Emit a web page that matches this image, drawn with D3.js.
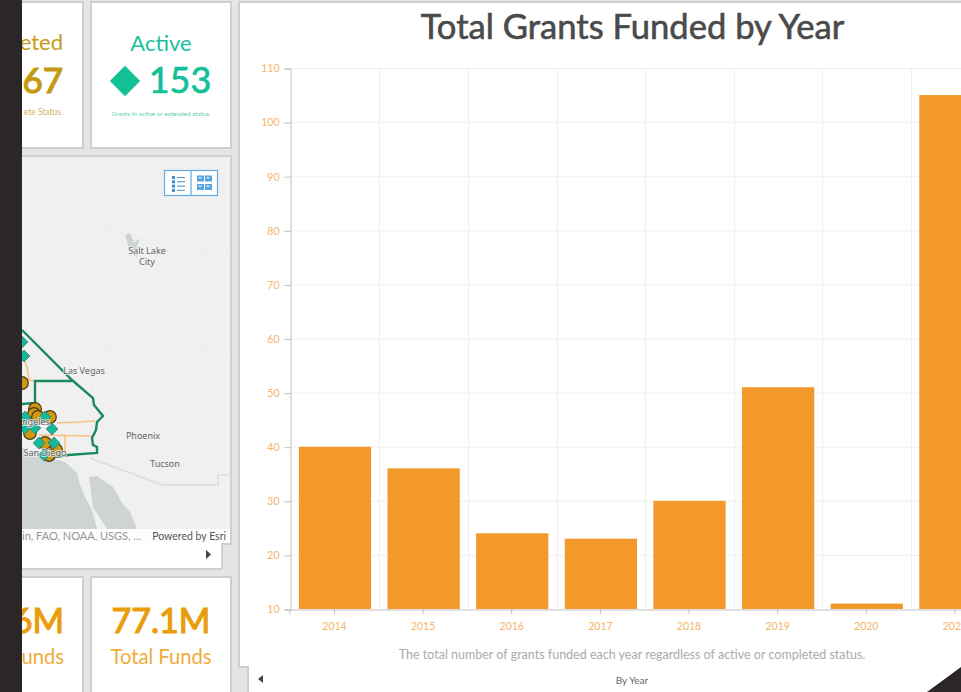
<!DOCTYPE html>
<html>
<head>
<meta charset="utf-8">
<script src="https://cdn.jsdelivr.net/npm/d3@7"></script>
<style>
  html, body { margin: 0; padding: 0; background: #e5e5e5; overflow: hidden; }
  svg { display: block; font-family: Lato, sans-serif; }
</style>
</head>
<body>
<svg id="chart" width="961" height="692"></svg>
<script>
// Chart values
const years = ["2014", "2015", "2016", "2017", "2018", "2019", "2020", "2021"];
const grants = [40, 36, 24, 23, 30, 51, 11, 105];
const yTicks = [10, 20, 30, 40, 50, 60, 70, 80, 90, 100, 110];

// Map scenery, in page pixels
const stateLines = [
  [[22, 225], [162, 225]], [[47, 157], [47, 225]], [[105, 225], [105, 352]],
  [[162, 157], [162, 251]], [[162, 251], [231, 251]], [[202, 251], [202, 485]],
  [[105, 352], [231, 352]], [[92, 380], [92, 398]]
];
const mexicoLine = [[90, 458], [163, 485], [218, 485], [218, 475], [231, 475]];
const ocean = [[22, 448], [50, 458], [65, 462], [72, 468], [77, 473], [80, 485], [85, 497], [92, 510], [97, 529], [22, 529]];
const gulf = [[89, 477], [97, 476], [113, 487], [122, 503], [130, 512], [137, 529], [107, 529], [93, 507]];
const saltLake = [[125, 235], [130, 233], [134, 243], [140, 238], [137, 246], [137, 258], [130, 252]];
const regionOuter = [[22, 330], [72, 380], [93, 398], [94, 405], [103, 416], [97, 422], [96, 430],
  [92, 438], [93, 445], [97, 447], [97, 453], [68, 455], [50, 458]];
const regionInner = [[72, 381], [35, 381], [35, 403], [22, 404]];
const countyLines = [
  [[24, 360], [27, 367], [29, 380], [35, 381]],
  [[57, 423], [80, 422], [95, 421]],
  [[39, 435], [92, 436]],
  [[65, 436], [65, 455]]
];
const completedSites = [[22, 383], [35, 409], [34, 414], [38, 417], [50, 417], [30, 433], [45, 443], [56, 450], [49, 455]];
const activeSites = [[24, 356], [22, 342], [25, 417], [45, 417], [35, 428], [25, 428], [52, 429], [39, 443], [54, 443], [44, 455]];
const cityLabels = [
  { name: "Salt Lake", x: 147, y: 254 }, { name: "City", x: 147, y: 265 },
  { name: "Las Vegas", x: 84, y: 374 }, { name: "Phoenix", x: 143, y: 439 },
  { name: "Tucson", x: 165, y: 467 }, { name: "San Diego", x: 45, y: 456 },
  { name: "ngeles", x: 36, y: 425 }
];

const svg = d3.select("#chart");
const panelStroke = "#cfcfcf";

function panel(x, y, w, h) {
  return svg.append("rect")
    .attr("x", x).attr("y", y).attr("width", w).attr("height", h)
    .attr("fill", "#fff").attr("stroke", panelStroke).attr("stroke-width", 2);
}

function label(parent, text, x, y, size, fill, anchor = "middle", weight = 400) {
  return parent.append("text")
    .attr("x", x).attr("y", y)
    .attr("font-size", size).attr("font-weight", weight)
    .attr("fill", fill).attr("text-anchor", anchor)
    .text(text);
}

// Thickens regular Lato where the original font has a medium weight
function medium(sel, width = 0.7) {
  return sel.attr("stroke", sel.attr("fill")).attr("stroke-width", width);
}

// KPI panels
panel(10, 2, 73, 146);
panel(91, 2, 140, 146);
panel(10, 577, 73, 125);
panel(91, 577, 140, 125);

label(svg, "eted", 63, 50, 22, "#c39a16", "end");
medium(label(svg, "67", 63, 93, 35, "#c39a12", "end"), 1.2);
label(svg, "ete Status.", 63, 115, 8.5, "#d3b45c", "end");

label(svg, "Active", 161, 51, 22, "#19c29c");
svg.append("path")
  .attr("d", d3.symbol(d3.symbolSquare, 460)())
  .attr("transform", "translate(125,81) rotate(45)")
  .attr("fill", "#12c096");
medium(label(svg, "153", 180, 93, 36, "#14c09a"), 0.7);
label(svg, "Grants in active or extended status.", 161, 116, 6.4, "#5cd0b4");

medium(label(svg, "6M", 64, 633, 34, "#eb9c0b", "end"), 1.2);
label(svg, "Funds", 64, 664, 20.2, "#f0ab3c", "end");
medium(label(svg, "77.1M", 161, 633, 34, "#eb9c0b"), 1.2);
label(svg, "Total Funds", 161, 664, 20.2, "#f0ab3c");

// Map panel: white frame with the notch at its lower right corner
svg.append("path")
  .attr("d", d3.line()([[10, 156], [231, 156], [231, 544], [222, 544], [222, 569], [10, 569]]) + "Z")
  .attr("fill", "#fff").attr("stroke", panelStroke).attr("stroke-width", 2);

const map = svg.append("g");
map.append("rect")
  .attr("x", 10).attr("y", 157).attr("width", 220).attr("height", 386)
  .attr("fill", "#f0f0f0");

const line = d3.line();
map.selectAll(".state").data(stateLines).enter().append("path")
  .attr("d", line).attr("fill", "none").attr("stroke", "#ebebeb").attr("stroke-width", 1);
map.append("path").attr("d", line(mexicoLine)).attr("fill", "none")
  .attr("stroke", "#dcdcdc").attr("stroke-width", 1.5);
[ocean, gulf, saltLake].forEach((shape) => {
  map.append("path").attr("d", line(shape) + "Z").attr("fill", "#ced3d4");
});
map.selectAll(".county").data(countyLines).enter().append("path")
  .attr("d", line).attr("fill", "none").attr("stroke", "#f8c07e").attr("stroke-width", 1.5);
[regionOuter, regionInner].forEach((shape) => {
  map.append("path").attr("d", line(shape)).attr("fill", "none")
    .attr("stroke", "#1a8a5e").attr("stroke-width", 2.4);
});

map.selectAll(".site-done").data(completedSites).enter().append("circle")
  .attr("cx", (d) => d[0]).attr("cy", (d) => d[1]).attr("r", 6.3)
  .attr("fill", "#cf9a10").attr("stroke", "#4a3a18").attr("stroke-width", 1.2);
map.selectAll(".site-active").data(activeSites).enter().append("path")
  .attr("d", d3.symbol(d3.symbolSquare, 70)())
  .attr("transform", (d) => `translate(${d[0]},${d[1]}) rotate(45)`)
  .attr("fill", "#15b99a").attr("stroke", "#2c6f62").attr("stroke-width", 0.6);

cityLabels.forEach((d) => {
  label(map, d.name, d.x, d.y, 9, "#666")
    .attr("font-family", "'Noto Sans', sans-serif")
    .attr("stroke", "rgba(240,240,240,0.75)").attr("stroke-width", 2)
    .attr("paint-order", "stroke");
});

// Attribution strip
map.append("rect")
  .attr("x", 10).attr("y", 529).attr("width", 220).attr("height", 14)
  .attr("fill", "#fff").attr("opacity", 0.85);
label(map, "in, FAO, NOAA, USGS, ...", 22, 540, 11, "#969696", "start");
label(map, "Powered by Esri", 226, 540, 10.5, "#555", "end");
svg.append("path").attr("d", line([[206, 550], [206, 559], [211, 554.5]]) + "Z").attr("fill", "#444");

// List and gallery buttons on the map
const buttons = svg.append("g");
buttons.append("rect").attr("x", 164.5).attr("y", 170.5).attr("width", 53).attr("height", 25)
  .attr("fill", "#fff").attr("stroke", "#62ace0").attr("stroke-width", 1.2);
buttons.append("line").attr("x1", 191).attr("x2", 191).attr("y1", 170).attr("y2", 196)
  .attr("stroke", "#62ace0").attr("stroke-width", 1.2);
d3.range(4).forEach((i) => {
  const rowY = 176 + i * 4.3;
  buttons.append("rect").attr("x", 172).attr("y", rowY).attr("width", 3).attr("height", 3).attr("fill", "#3f8fce");
  buttons.append("rect").attr("x", 177).attr("y", rowY + 1).attr("width", 8).attr("height", 1).attr("fill", "#3f8fce");
});
d3.cross([197, 205], [175.5, 184]).forEach(([x, y]) => {
  buttons.append("rect").attr("x", x).attr("y", y).attr("width", 7).attr("height", 6).attr("fill", "#5aa3da");
  buttons.append("rect").attr("x", x + 1.5).attr("y", y + 1.5).attr("width", 3).attr("height", 1.5).attr("fill", "#d5e8f6");
});

// Chart panel, also notched at the bottom
svg.append("path")
  .attr("d", d3.line()([[239, 2], [980, 2], [980, 700], [248, 700], [248, 667], [239, 667]]) + "Z")
  .attr("fill", "#fff").attr("stroke", panelStroke).attr("stroke-width", 2);

medium(label(svg, "Total Grants Funded by Year", 632.5, 39, 34.6, "#4a4a4a"), 0.6);

const x = d3.scaleBand().domain(years).range([290, 1000.4]).paddingInner(0.185).paddingOuter(0.1);
const y = d3.scaleLinear().domain([10, 110]).range([609, 68]);
const step = x.step();

// Grid
const grid = svg.append("g");
grid.selectAll(".h").data(yTicks.slice(1)).enter().append("line")
  .attr("x1", 290).attr("x2", 961)
  .attr("y1", (d) => y(d) + 0.5).attr("y2", (d) => y(d) + 0.5)
  .attr("stroke", "#f0f0f0");
grid.selectAll(".v").data(years).enter().append("line")
  .attr("x1", (d) => Math.round(x(d) + x.bandwidth() / 2 + step / 2) + 0.5)
  .attr("x2", (d) => Math.round(x(d) + x.bandwidth() / 2 + step / 2) + 0.5)
  .attr("y1", y(110)).attr("y2", y(10))
  .attr("stroke", "#f0f0f0");

// Bars
svg.selectAll(".bar").data(years).enter().append("rect")
  .attr("class", "bar")
  .attr("x", (d) => x(d))
  .attr("y", (d, i) => y(grants[i]))
  .attr("width", x.bandwidth())
  .attr("height", (d, i) => y(10) - y(grants[i]))
  .attr("fill", "#f3992b");

// Axes
const yAxis = svg.append("g")
  .attr("transform", "translate(290.5,0.5)")
  .call(d3.axisLeft(y).tickValues(yTicks).tickSizeOuter(0).tickSize(6).tickPadding(5));
const xAxis = svg.append("g")
  .attr("transform", "translate(-0.5,609.5)")
  .call(d3.axisBottom(x).tickSizeOuter(0).tickSize(5).tickPadding(8));
[yAxis, xAxis].forEach((axis) => {
  axis.selectAll("path, line").attr("stroke", "#bfbfbf");
  axis.selectAll("text").attr("fill", "#f4b469").attr("font-size", 10.5).attr("font-family", "Lato, sans-serif");
});

label(svg, "The total number of grants funded each year regardless of active or completed status.", 632, 659, 12.5, "#ababab");
label(svg, "By Year", 632, 684, 10, "#666");
svg.append("path").attr("d", line([[263, 675], [263, 683], [258, 679]]) + "Z").attr("fill", "#444");

// Dark window edges on top of everything
svg.append("rect").attr("x", 0).attr("y", 0).attr("width", 22).attr("height", 692).attr("fill", "#2b2728");
svg.append("path").attr("d", line([[927, 692], [961, 667], [961, 692]]) + "Z").attr("fill", "#2b2728");
</script>
</body>
</html>
